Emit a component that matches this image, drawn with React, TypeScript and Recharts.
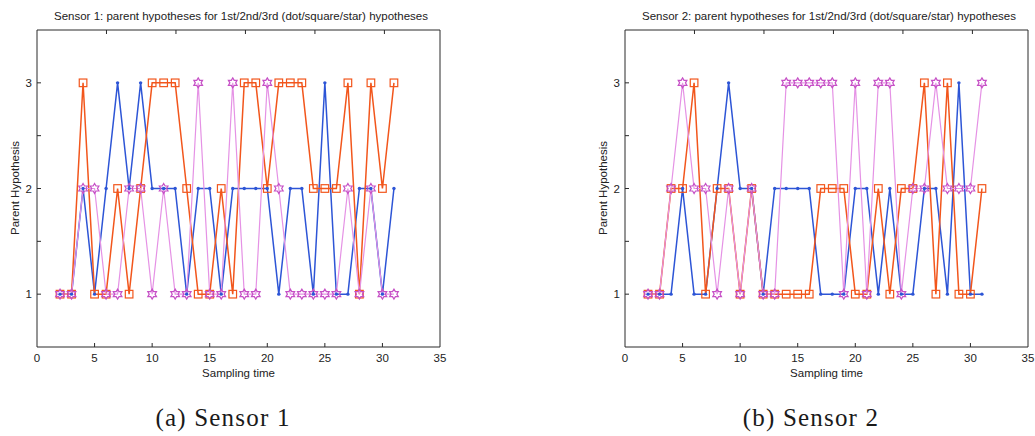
import React from "react";
import { LineChart, Line, XAxis, YAxis } from "recharts";

// sampling times shared by both sensors
const times = [2, 3, 4, 5, 6, 7, 8, 9, 10, 11, 12, 13, 14, 15, 16, 17, 18, 19, 20, 21, 22, 23, 24, 25, 26, 27, 28, 29, 30, 31];

// Sensor 1: parent hypothesis of 1st (dot), 2nd (square), 3rd (star) hypothesis
const s1Dot = [1, 1, 2, 1, 2, 3, 2, 3, 2, 2, 2, 1, 2, 2, 1, 2, 2, 2, 2, 1, 2, 2, 1, 3, 1, 1, 2, 2, 1, 2];
const s1Square = [1, 1, 3, 1, 1, 2, 1, 2, 3, 3, 3, 2, 1, 1, 2, 1, 3, 3, 2, 3, 3, 3, 2, 2, 2, 3, 1, 3, 2, 3];
const s1Star = [1, 1, 2, 2, 1, 1, 2, 2, 1, 2, 1, 1, 3, 1, 1, 3, 1, 1, 3, 2, 1, 1, 1, 1, 1, 2, 1, 2, 1, 1];

// Sensor 2
const s2Dot = [1, 1, 1, 2, 1, 1, 2, 3, 2, 2, 1, 2, 2, 2, 2, 1, 1, 1, 2, 2, 1, 2, 1, 1, 2, 2, 1, 3, 1, 1];
const s2Square = [1, 1, 2, 2, 3, 1, 2, 2, 1, 2, 1, 1, 1, 1, 1, 2, 2, 2, 1, 1, 2, 1, 2, 2, 3, 1, 3, 1, 1, 2];
const s2Star = [1, 1, 2, 3, 2, 2, 1, 2, 1, 2, 1, 1, 3, 3, 3, 3, 3, 1, 3, 1, 3, 3, 1, 2, 2, 3, 2, 2, 2, 3];

const xTicks = [0, 5, 10, 15, 20, 25, 30, 35];
const yTicks = [1, 1.5, 2, 2.5, 3];

const SANS = "'Liberation Sans', Arial, sans-serif";
const AXIS = "#2a2a2a";
const BLUE = "#2d55d6";
const ORANGE = "#f2561c";
const PINK_LINE = "#e592e5";
const PINK_MARK = "#c650c6";

function BottomTick(props: any) {
  const { x, y, payload } = props;
  const v = payload.value;
  return (
    <g>
      {v > 0 && v < 35 && <line x1={x} x2={x} y1={y} y2={y - 4} stroke={AXIS} />}
      <text x={x} y={y + 15} textAnchor="middle" fontSize={11.5} fontFamily={SANS} fill="#222">
        {v}
      </text>
    </g>
  );
}

function TopTick(props: any) {
  const { x, y, payload } = props;
  const v = payload.value;
  if (v <= 0 || v >= 35) return <g />;
  return <line x1={x} x2={x} y1={y} y2={y + 4} stroke={AXIS} />;
}

function LeftTick(props: any) {
  const { x, y, payload } = props;
  const v = payload.value;
  return (
    <g>
      <line x1={x} x2={x + 4} y1={y} y2={y} stroke={AXIS} />
      {Number.isInteger(v) && (
        <text x={x - 5} y={y + 4} textAnchor="end" fontSize={11.5} fontFamily={SANS} fill="#222">
          {v}
        </text>
      )}
    </g>
  );
}

function RightTick(props: any) {
  const { x, y } = props;
  return <line x1={x} x2={x - 4} y1={y} y2={y} stroke={AXIS} />;
}

function DotMark(p: any) {
  return <circle key={`d-${p.index}`} cx={p.cx} cy={p.cy} r={1.7} fill={BLUE} />;
}

function SquareMark(p: any) {
  return (
    <rect key={`s-${p.index}`} x={p.cx - 3.8} y={p.cy - 3.8} width={7.6} height={7.6} fill="none" stroke={ORANGE} strokeWidth={1.2} />
  );
}

function StarMark(p: any) {
  const R = 5;
  const r = R / Math.sqrt(3);
  const pts: string[] = [];
  for (let k = 0; k < 12; k++) {
    const a = (-90 + k * 30) * (Math.PI / 180);
    const rad = k % 2 === 0 ? R : r;
    pts.push(`${p.cx + rad * Math.cos(a)},${p.cy + rad * Math.sin(a)}`);
  }
  return <polygon key={`h-${p.index}`} points={pts.join(" ")} fill="none" stroke={PINK_MARK} strokeWidth={1.2} />;
}

interface PanelProps {
  left: number;
  title: string;
  caption: string;
  dots: number[];
  squares: number[];
  stars: number[];
}

function Panel({ left, title, caption, dots, squares, stars }: PanelProps) {
  const data = times.map((t, i) => ({ t, dot: dots[i], square: squares[i], star: stars[i] }));

  return (
    <div style={{ position: "absolute", left, top: 0, width: 450, height: 436 }}>
      <div
        style={{
          position: "absolute",
          left: 0,
          top: 9,
          width: 482,
          textAlign: "center",
          whiteSpace: "nowrap",
          fontFamily: SANS,
          fontSize: 11.5,
          lineHeight: "14px",
          color: "#222",
        }}
      >
        {title}
      </div>
      <div
        style={{
          position: "absolute",
          left: 15 - 60,
          top: 188 - 7,
          width: 120,
          textAlign: "center",
          transform: "rotate(-90deg)",
          fontFamily: SANS,
          fontSize: 11.5,
          lineHeight: "14px",
          color: "#222",
        }}
      >
        Parent Hypothesis
      </div>
      <div style={{ position: "absolute", left: 0, top: 0 }}>
        <LineChart width={450} height={380} data={data} margin={{ top: 28, right: 8, bottom: 13, left: 0 }}>
          <XAxis
            dataKey="t"
            type="number"
            domain={[0, 35]}
            ticks={xTicks}
            height={20}
            tickSize={0}
            tickMargin={0}
            stroke={AXIS}
            tick={BottomTick}
            interval={0}
          />
          <XAxis
            xAxisId="top"
            orientation="top"
            type="number"
            domain={[0, 35]}
            ticks={xTicks}
            height={2}
            tickSize={0}
            tickMargin={0}
            stroke={AXIS}
            tick={TopTick}
            interval={0}
          />
          <YAxis
            type="number"
            domain={[0.5, 3.5]}
            ticks={yTicks}
            width={37}
            tickSize={0}
            tickMargin={0}
            stroke={AXIS}
            tick={LeftTick}
            interval={0}
          />
          <YAxis
            yAxisId="right"
            orientation="right"
            type="number"
            domain={[0.5, 3.5]}
            ticks={yTicks}
            width={2}
            tickSize={0}
            tickMargin={0}
            stroke={AXIS}
            tick={RightTick}
            interval={0}
          />
          <Line dataKey="dot" stroke={BLUE} strokeWidth={1.5} dot={DotMark} activeDot={false} isAnimationActive={false} />
          <Line dataKey="square" stroke={ORANGE} strokeWidth={1.5} dot={SquareMark} activeDot={false} isAnimationActive={false} />
          <Line dataKey="star" stroke={PINK_LINE} strokeWidth={1.2} dot={StarMark} activeDot={false} isAnimationActive={false} />
        </LineChart>
      </div>
      <div
        style={{
          position: "absolute",
          left: 37,
          top: 366,
          width: 403,
          textAlign: "center",
          fontFamily: SANS,
          fontSize: 11.5,
          lineHeight: "14px",
          color: "#222",
        }}
      >
        Sampling time
      </div>
      <div
        style={{
          position: "absolute",
          left: 223 - 120,
          top: 403,
          width: 240,
          textAlign: "center",
          fontFamily: "'Liberation Serif', 'Times New Roman', serif",
          fontSize: 25,
          letterSpacing: 1.2,
          lineHeight: "30px",
          color: "#1a1a1a",
        }}
      >
        {caption}
      </div>
    </div>
  );
}

export default function App() {
  return (
    <div style={{ position: "absolute", left: 0, top: 0, width: 1035, height: 436, background: "#fff", overflow: "hidden" }}>
      <Panel
        left={0}
        title="Sensor 1: parent hypotheses for 1st/2nd/3rd (dot/square/star) hypotheses"
        caption="(a) Sensor 1"
        dots={s1Dot}
        squares={s1Square}
        stars={s1Star}
      />
      <Panel
        left={588}
        title="Sensor 2: parent hypotheses for 1st/2nd/3rd (dot/square/star) hypotheses"
        caption="(b) Sensor 2"
        dots={s2Dot}
        squares={s2Square}
        stars={s2Star}
      />
    </div>
  );
}
